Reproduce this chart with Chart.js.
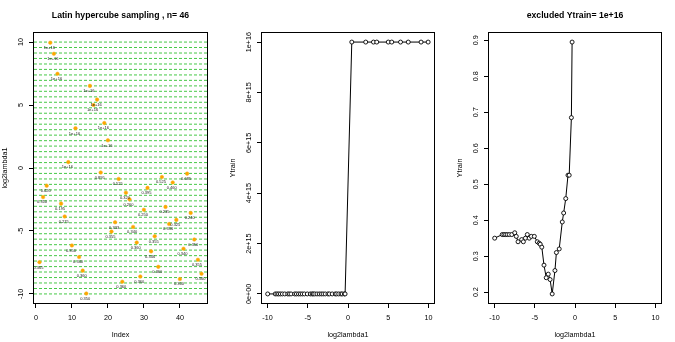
<!DOCTYPE html>
<html>
<head>
<meta charset="utf-8">
<script src="https://cdn.jsdelivr.net/npm/chart.js@4.4.1/dist/chart.umd.min.js"></script>
<style>
  html, body { margin: 0; padding: 0; background: #fff; }
  #wrap { position: relative; width: 675px; height: 342px; }
  canvas { position: absolute; top: 0; }
</style>
</head>
<body>
<div id="wrap">
  <canvas id="c1" width="225" height="342" style="left:0"></canvas>
  <canvas id="c2" width="225" height="342" style="left:225px"></canvas>
  <canvas id="c3" width="225" height="342" style="left:450px"></canvas>
</div>
<script>
// --- Data ---
const sampleIndex = [1, 2, 3, 4, 5, 6, 7, 8, 9, 10, 11, 12, 13, 14, 15, 16, 17, 18, 19, 20, 21, 22, 23,
    24, 25, 26, 27, 28, 29, 30, 31, 32, 33, 34, 35, 36, 37, 38, 39, 40, 41, 42, 43, 44, 45, 46];
const log2lambda1 = [-7.48, -2.31, -1.41, 9.95, 9.07, 7.48, -2.83, -3.85, 0.47, -6.15, 3.16, -7.07,
    -8.15, -9.97, 6.52, 5.00, 5.43, -0.36, 3.57, 2.20, -5.05, -4.31, -0.87, -9.03, -1.96, -2.49,
    -4.68, -5.92, -8.62, -3.32, -1.58, -6.62, -5.42, -7.85, -0.72, -3.09, -4.45, -1.15, -4.12,
    -8.82, -6.41, -0.45, -3.57, -5.68, -7.29, -8.40];
const ytrain = [0.365, 0.310, 0.420, 1e16, 1e16, 1e16, 0.195, 0.275, 1e16, 0.350, 1e16, 0.340,
    0.360, 0.350, 1e16, 1e16, 1e16, 0.895, 1e16, 1e16, 0.355, 0.333, 0.525, 0.360, 0.320, 0.260,
    0.340, 0.360, 0.360, 0.250, 0.395, 0.346, 0.355, 0.360, 0.525, 0.235, 0.336, 0.460, 0.325,
    0.360, 0.340, 0.685, 0.240, 0.350, 0.355, 0.360];
const excludedValue = 1e16;

// strata boundaries of the hypercube (horizontal guide lines)
const strataLines = [-10, -9.57, -9.13, -8.70, -8.26, -7.83, -7.39, -6.96, -6.52, -6.09, -5.65,
    -5.22, -4.78, -4.35, -3.91, -3.48, -3.04, -2.61, -2.17, -1.74, -1.30, -0.87, -0.43, 0, 0.43,
    0.87, 1.30, 1.74, 2.17, 2.61, 3.04, 3.48, 3.91, 4.35, 4.78, 5.22, 5.65, 6.09, 6.52, 6.96,
    7.39, 7.83, 8.26, 8.70, 9.13, 9.57, 10];

// --- Tick labels ---
const indexTicks = [0, 10, 20, 30, 40];
const lambdaTicks = [-10, -5, 0, 5, 10];
const ytrainTicks = [0, 2e15, 4e15, 6e15, 8e15, 1e16];
const ytrainTickLabels = ["0e+00", "2e+15", "4e+15", "6e+15", "8e+15", "1e+16"];
const ytrainSubTicks = [0.2, 0.3, 0.4, 0.5, 0.6, 0.7, 0.8, 0.9];
const ytrainSubTickLabels = ["0.2", "0.3", "0.4", "0.5", "0.6", "0.7", "0.8", "0.9"];

const FONT = '"Liberation Sans", Arial, Helvetica, sans-serif';
const W = 225, H = 342, Y_AXIS_W = 20;

// --- R-like frame: box, titles, tick labels ---
const rFrame = {
    id: "rFrame",
    afterDraw(chart, args, opts) {
        const ctx = chart.ctx;
        const a = chart.chartArea;
        const xs = chart.scales.x, ys = chart.scales.y;
        ctx.save();
        ctx.strokeStyle = "#000";
        ctx.lineWidth = 1;
        ctx.strokeRect(a.left + 0.5, a.top + 0.5, a.right - a.left - 1, a.bottom - a.top - 1);

        ctx.fillStyle = "#000";
        ctx.textAlign = "center";
        ctx.textBaseline = "middle";

        if (opts.title) {
            ctx.font = "bold 8.7px " + FONT;
            ctx.fillText(opts.title, (a.left + a.right) / 2, 15.5);
        }

        ctx.font = "7.2px " + FONT;
        opts.xTicks.forEach((v, i) => {
            ctx.fillText(opts.xTickLabels[i], xs.getPixelForValue(v), a.bottom + 14);
        });
        ctx.fillText(opts.xLabel, (a.left + a.right) / 2, a.bottom + 31);

        opts.yTicks.forEach((v, i) => {
            ctx.save();
            ctx.translate(a.left - 11.5, ys.getPixelForValue(v));
            ctx.rotate(-Math.PI / 2);
            ctx.fillText(opts.yTickLabels[i], 0, 0);
            ctx.restore();
        });
        ctx.save();
        ctx.translate(a.left - 27.5, (a.top + a.bottom) / 2);
        ctx.rotate(-Math.PI / 2);
        ctx.fillText(opts.yLabel, 0, 0);
        ctx.restore();
        ctx.restore();
    }
};

// --- Panel 1 extras: dashed strata lines and value labels ---
const lhsDecor = {
    id: "lhsDecor",
    beforeDatasetsDraw(chart) {
        const ctx = chart.ctx, a = chart.chartArea, ys = chart.scales.y;
        ctx.save();
        ctx.strokeStyle = "rgb(70,200,70)";
        ctx.lineWidth = 1;
        ctx.setLineDash([3, 2]);
        strataLines.forEach(v => {
            const py = ys.getPixelForValue(v);
            ctx.beginPath();
            ctx.moveTo(a.left + 1, py);
            ctx.lineTo(a.right - 1, py);
            ctx.stroke();
        });
        ctx.restore();
    },
    afterDatasetsDraw(chart) {
        const ctx = chart.ctx, xs = chart.scales.x, ys = chart.scales.y;
        ctx.save();
        ctx.fillStyle = "#222";
        ctx.font = "4px " + FONT;
        ctx.textAlign = "center";
        ctx.textBaseline = "middle";
        sampleIndex.forEach((idx, i) => {
            const label = ytrain[i] === excludedValue ? "1e+16" : ytrain[i].toFixed(3);
            ctx.fillText(label, xs.getPixelForValue(idx) - 1, ys.getPixelForValue(log2lambda1[i]) + 5.3);
        });
        ctx.restore();
    }
};

function fixedTicks(values) {
    return scale => { scale.ticks = values.map(v => ({ value: v })); };
}

function makeScale(min, max, ticks, isX, size) {
    return {
        type: "linear",
        min: min,
        max: max,
        afterBuildTicks: fixedTicks(ticks),
        afterFit: s => { if (isX) s.height = size; else s.width = size; },
        ticks: { display: false },
        border: { display: false },
        grid: { drawOnChartArea: false, drawTicks: true, tickLength: 4, color: "#000", lineWidth: 1 }
    };
}

function makePanel(canvasId, box, datasets, scales, frame, extraPlugins) {
    return new Chart(document.getElementById(canvasId), {
        type: "scatter",
        data: { datasets: datasets },
        options: {
            responsive: false,
            animation: false,
            devicePixelRatio: 1,
            layout: { padding: { left: box.left - Y_AXIS_W, right: W - box.right, top: box.top, bottom: 0 } },
            scales: {
                x: makeScale(scales.xMin, scales.xMax, frame.xTicks, true, H - box.bottom),
                y: makeScale(scales.yMin, scales.yMax, frame.yTicks, false, Y_AXIS_W)
            },
            plugins: { legend: { display: false }, tooltip: { enabled: false }, rFrame: frame }
        },
        plugins: [rFrame].concat(extraPlugins || [])
    });
}

// Panel 1: sampled log2lambda1 by index
makePanel("c1", { left: 33, right: 208, top: 32, bottom: 304 }, [{
    data: sampleIndex.map((idx, i) => ({ x: idx, y: log2lambda1[i] })),
    pointRadius: 1.8,
    pointBackgroundColor: "#ffa500",
    pointBorderColor: "#f2b21c",
    pointBorderWidth: 0.5
}], { xMin: -0.8, xMax: 47.8, yMin: -10.8, yMax: 10.8 }, {
    title: "Latin hypercube sampling , n= 46",
    xLabel: "Index", yLabel: "log2lambda1",
    xTicks: indexTicks, xTickLabels: indexTicks.map(String),
    yTicks: lambdaTicks, yTickLabels: lambdaTicks.map(String)
}, [lhsDecor]);

// Panel 2: Ytrain vs log2lambda1, all points
const allPairs = log2lambda1.map((x, i) => ({ x: x, y: ytrain[i] })).sort((p, q) => p.x - q.x);
const lineStyle = {
    showLine: true,
    borderColor: "#000",
    borderWidth: 1,
    pointRadius: 2,
    pointBackgroundColor: "#fff",
    pointBorderColor: "#000",
    pointBorderWidth: 0.9
};
makePanel("c2", { left: 36, right: 210, top: 32, bottom: 304 },
    [Object.assign({ data: allPairs }, lineStyle)],
    { xMin: -10.8, xMax: 10.8, yMin: -0.04e16, yMax: 1.04e16 }, {
    title: "",
    xLabel: "log2lambda1", yLabel: "Ytrain",
    xTicks: lambdaTicks, xTickLabels: lambdaTicks.map(String),
    yTicks: ytrainTicks, yTickLabels: ytrainTickLabels
});

// Panel 3: excluding the 1e+16 failures
const keptPairs = allPairs.filter(p => p.y !== excludedValue);
makePanel("c3", { left: 38, right: 212, top: 32, bottom: 304 },
    [Object.assign({ data: keptPairs }, lineStyle)],
    { xMin: -10.8, xMax: 10.8, yMin: 0.167, yMax: 0.923 }, {
    title: "excluded Ytrain= 1e+16",
    xLabel: "log2lambda1", yLabel: "Ytrain",
    xTicks: lambdaTicks, xTickLabels: lambdaTicks.map(String),
    yTicks: ytrainSubTicks, yTickLabels: ytrainSubTickLabels
});
</script>
</body>
</html>
